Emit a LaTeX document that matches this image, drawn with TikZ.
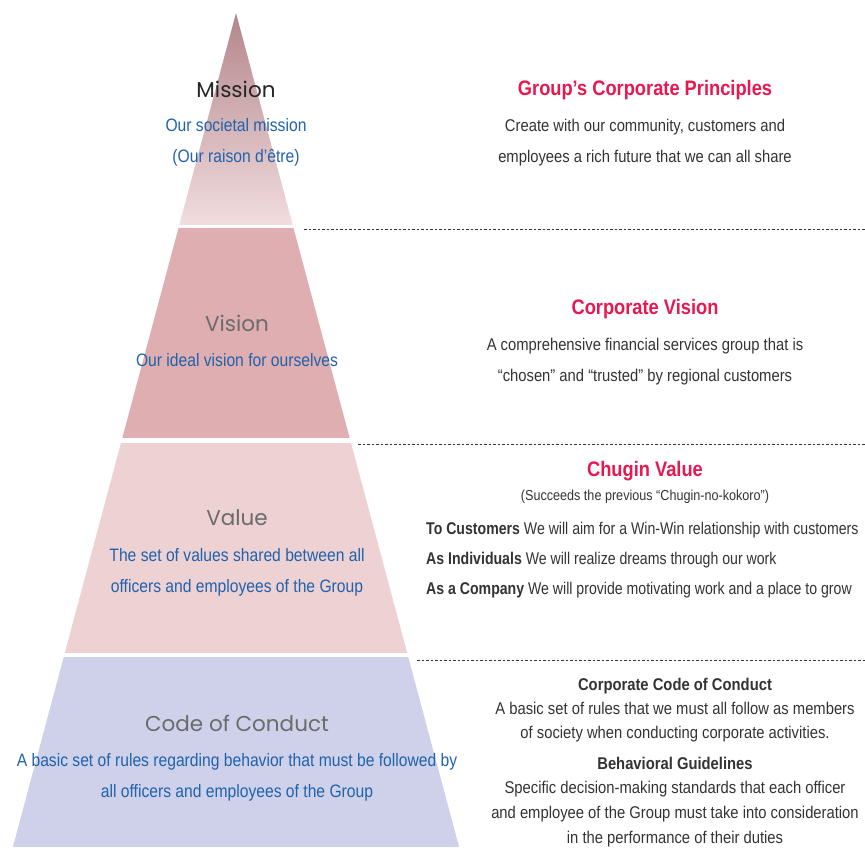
\documentclass[tikz,border=0pt]{standalone}
\usepackage{fontspec}
\setmainfont{Liberation Sans}[FakeStretch=0.87]
\newfontfamily\narrowfont{Liberation Sans}[FakeStretch=0.83]
\newfontfamily\headfont{Poppins}
\usetikzlibrary{positioning}
\definecolor{mtop}{HTML}{B3868B}
\definecolor{mmid}{HTML}{D9A9AD}
\definecolor{mbot}{HTML}{F1DCDE}
\definecolor{vis}{HTML}{DFAEB1}
\definecolor{val}{HTML}{EDD1D3}
\definecolor{coc}{HTML}{CFD1EA}
\definecolor{tb}{HTML}{1F62AC}
\definecolor{cr}{HTML}{E8174F}
\definecolor{dk}{HTML}{333333}
\definecolor{tg}{HTML}{6B6B6B}
\tikzstyle{tier} = [font=\headfont\fontsize{21.5}{25}\selectfont, text=tg]
\tikzstyle{desc} = [font=\fontsize{18}{31}\selectfont, text=tb, align=center]
\tikzstyle{head} = [font=\bfseries\fontsize{21}{25}\selectfont, text=cr]
\tikzstyle{body} = [font=\fontsize{17}{31}\selectfont, text=dk, align=center]
\tikzstyle{sub} = [font=\bfseries\fontsize{17}{20}\selectfont, text=dk]
\tikzstyle{sep} = [dk, line width=0.8pt, dash pattern=on 2.5pt off 2pt]

\begin{document}
\begin{tikzpicture}[x=1pt,y=-1pt]
	\useasboundingbox (0,0) rectangle (865,847);
	% pyramid, cut into four tiers
	\begin{scope}
		\clip (236,13) -- (12.9,847) -- (459.1,847) -- cycle;
		\shade[top color=mtop, middle color=mmid, bottom color=mbot] (0,13) rectangle (865,224);
		\fill[vis] (0,228) rectangle (865,438);
		\fill[val] (0,443) rectangle (865,653);
		\fill[coc] (0,657) rectangle (865,847);
	\end{scope}
	\draw[sep] (304,229) -- (865,229);
	\draw[sep] (358,444) -- (865,444);
	\draw[sep] (417,660) -- (865,660);
	% tier names
	\node[tier, text=black!85] (mission) at (236,89) {Mission};
	\node[desc] (missiond) at (236,142.5) {Our societal mission\\(Our raison d’être)};
	\node[tier] (vision) at (237,323) {Vision};
	\node[desc] (visiond) at (237,360) {Our ideal vision for ourselves};
	\node[tier] (value) at (237,518) {Value};
	\node[desc] (valued) at (237,572) {The set of values shared between all\\officers and employees of the Group};
	\node[tier] (conduct) at (237,723) {Code of Conduct};
	\node[desc] (conductd) at (237,777.5) {A basic set of rules regarding behavior that must be followed by\\all officers and employees of the Group};
	% right hand texts
	\node[head] (principles) at (645,90) {Group’s Corporate Principles};
	\node[body] (principlesd) at (645,142.5) {Create with our community, customers and\\employees a rich future that we can all share};
	\node[head] (corpvision) at (645,309) {Corporate Vision};
	\node[body] (corpvisiond) at (645,361.5) {A comprehensive financial services group that is\\“chosen” and “trusted” by regional customers};
	\node[head] (chugin) at (645,471) {Chugin Value};
	\node[body, font=\fontsize{14.5}{17}\selectfont] (chugins) at (645,497) {(Succeeds the previous “Chugin-no-kokoro”)};
	\node[body, font=\narrowfont\fontsize{17}{30}\selectfont, align=left, anchor=west, inner sep=0pt] (chuginl) at (426,560) {\textbf{To Customers} We will aim for a Win-Win relationship with customers\\\textbf{As Individuals} We will realize dreams through our work\\\textbf{As a Company} We will provide motivating work and a place to grow};
	\node[sub] (corpcode) at (675,686) {Corporate Code of Conduct};
	\node[body, font=\fontsize{17}{24.5}\selectfont] (corpcoded) at (675,722) {A basic set of rules that we must all follow as members\\of society when conducting corporate activities.};
	\node[sub] (guide) at (675,763) {Behavioral Guidelines};
	\node[body, font=\fontsize{17}{25}\selectfont] (guided) at (675,814) {Specific decision-making standards that each officer\\and employee of the Group must take into consideration\\in the performance of their duties};
\end{tikzpicture}
\end{document}
